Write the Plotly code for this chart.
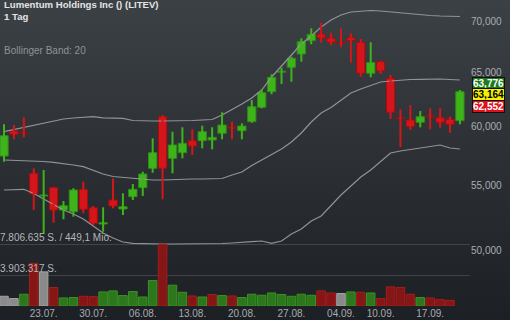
import base64
import math
import plotly.graph_objects as go

# ---------------- data ----------------
dates = [
    "2018-07-17", "2018-07-18", "2018-07-19", "2018-07-20",
    "2018-07-23", "2018-07-24", "2018-07-25", "2018-07-26", "2018-07-27",
    "2018-07-30", "2018-07-31", "2018-08-01", "2018-08-02", "2018-08-03",
    "2018-08-06", "2018-08-07", "2018-08-08", "2018-08-09", "2018-08-10",
    "2018-08-13", "2018-08-14", "2018-08-15", "2018-08-16", "2018-08-17",
    "2018-08-20", "2018-08-21", "2018-08-22", "2018-08-23", "2018-08-24",
    "2018-08-27", "2018-08-28", "2018-08-29", "2018-08-30", "2018-08-31",
    "2018-09-04", "2018-09-05", "2018-09-06", "2018-09-07",
    "2018-09-10", "2018-09-11", "2018-09-12", "2018-09-13", "2018-09-14",
    "2018-09-17", "2018-09-18", "2018-09-19", "2018-09-20",
]
opens = [57.464, 59.614, 59.44, 56.022, 54.184, 54.849, 53.079, 52.947, 54.72, 53.26,
         51.999, 53.865, 53.157, 54.127, 54.849, 56.435, 60.881, 57.27, 57.744, 58.77,
         58.77, 58.83, 59.414, 59.95, 59.64, 60.435, 61.728, 63.158, 64.996, 65.464,
         66.757, 68.073, 68.749, 68.345, 67.90, 68.375, 67.913, 64.89, 66.01, 64.415,
         60.78, 60.585, 60.382, 61.00, 60.791, 60.648, 60.523]
highs = [60.205, 60.143, 60.827, 56.435, 56.293, 54.88, 53.786, 54.801, 55.334, 53.393,
         53.291, 55.612, 54.40, 55.148, 56.153, 58.978, 61.033, 59.553, 59.94, 59.763,
         60.081, 59.94, 61.276, 60.435, 60.294, 62.392, 63.381, 64.795, 65.426, 66.493,
         68.311, 69.325, 69.899, 68.878, 69.325, 68.817, 68.244, 67.913, 66.06, 64.729,
         61.546, 61.937, 61.392, 61.637, 61.637, 60.881, 63.315]
lows = [56.984, 58.891, 59.065, 53.079, 51.241, 52.099, 52.359, 52.56, 52.824, 51.923,
        51.414, 53.213, 52.692, 53.865, 54.184, 56.071, 53.921, 56.022, 57.27, 57.549,
        58.118, 58.032, 58.891, 58.891, 58.891, 60.346, 61.637, 62.919, 63.878, 64.093,
        66.006, 67.716, 67.874, 67.646, 67.418, 65.909, 64.567, 64.51, 64.824, 60.675,
        58.23, 59.701, 59.94, 59.763, 59.905, 59.466, 60.205]
closes = [59.205, 59.326, 59.40, 54.344, 54.264, 53.079, 53.417, 54.663, 53.134, 52.053,
          52.099, 53.393, 53.338, 54.72, 55.964, 57.744, 56.435, 58.401, 58.547, 58.315,
          59.553, 59.065, 60.143, 59.86, 60.055, 61.782, 63.066, 64.51, 65.091, 66.336,
          67.976, 68.719, 68.345, 67.913, 67.82, 68.073, 64.891, 65.922, 65.109, 61.276,
          60.70, 59.993, 60.881, 60.93, 60.382, 60.205, 63.164]
volumes = [1230000, 940000, 1490000, 5390000, 4320000, 2340000, 1020000, 1070000, 1230000, 1190000,
           1780000, 1910000, 1320000, 1830000, 1140000, 3230000, 7806635, 2630000, 1740000, 1270000,
           1140000, 1450000, 1320000, 1270000, 1070000, 1490000, 1360000, 1650000, 1450000, 1230000,
           1490000, 1360000, 1910000, 1650000, 1580000, 1780000, 1740000, 1650000, 940000, 2420000,
           2340000, 1490000, 1070000, 1020000, 810000, 720000, None]
vol_dir = ["n", "n", "u", "d", "n", "d", "u", "u", "d", "d",
           "u", "u", "u", "u", "u", "u", "d", "u", "u", "d",
           "u", "d", "u", "d", "u", "u", "u", "u", "u", "u",
           "u", "u", "d", "d", "n", "u", "d", "u", "d", "d",
           "d", "d", "u", "d", "d", "d", "u"]
bb_upper = [59.553, 59.745, 59.922, 60.143, 60.293, 60.496, 60.675, 60.764, 60.827, 60.881,
            60.782, 60.738, 60.738, 60.541, 60.496, 60.496, 60.496, 60.496, 60.496, 60.541,
            60.585, 60.630, 61.034, 61.510, 62.028, 62.577, 63.315, 64.539, 65.590, 66.660,
            67.745, 68.546, 69.458, 70.175, 70.695, 71.007, 71.110, 71.162, 71.110, 71.007,
            70.903, 70.799, 70.695, 70.643, 70.591, 70.560, 70.539]
bb_mid = [57.126, 57.101, 57.068, 57.043, 57.001, 56.934, 56.851, 56.709, 56.568, 56.293,
          55.965, 55.760, 55.677, 55.612, 55.529, 55.472, 55.472, 55.513, 55.529, 55.554,
          55.554, 55.579, 55.595, 55.882, 56.129, 56.668, 57.126, 57.549, 58.058, 58.658,
          59.440, 60.408, 61.213, 61.710, 62.392, 63.038, 63.409, 63.737, 64.065, 64.158,
          64.253, 64.301, 64.320, 64.348, 64.348, 64.301, 64.253]
bb_lower = [54.663, 54.703, 54.720, 54.384, 53.945, 53.472, 53.079, 52.769, 52.382, 51.847,
            51.316, 50.941, 50.642, 50.546, 50.516, 50.494, 50.494, 50.494, 50.494, 50.494,
            50.494, 50.494, 50.531, 50.568, 50.642, 50.664, 50.716, 50.546, 50.716, 51.241,
            51.618, 52.229, 52.614, 53.472, 54.264, 54.987, 55.718, 56.293, 57.043, 57.718,
            57.888, 58.015, 58.187, 58.315, 58.401, 58.144, 58.058]
price_ticks = [50, 55, 60, 65, 70]
label_dates = ["2018-07-23", "2018-07-30", "2018-08-06", "2018-08-13", "2018-08-20",
               "2018-08-27", "2018-09-04", "2018-09-10", "2018-09-17"]
quote_ask = 63.776
quote_last = 63.164
quote_bid = 62.552
max_turnover_mio = 449.1
title_text = "Lumentum Holdings Inc () (LITEV)"
period_text = "1 Tag"
indicator_text = "Bollinger Band: 20"

# ---------------- styling ----------------
GREEN_BODY, GREEN_EDGE = "#3fb31c", "#2c8c12"
RED_BODY, RED_EDGE = "#d4161b", "#a30d10"
VOL_FILL = {"u": "#2c761b", "d": "#861616", "n": "#8a8a8a"}
VOL_EDGE = {"u": "#3a9326", "d": "#a41d1d", "n": "#a3a3a3"}
BAND = "rgba(150,152,155,0.95)"
AXIS_TXT = "#a9adb2"
FONT = "Liberation Sans, Arial, sans-serif"

W, H = 510, 320
ML, MR, MT, MB = 0, 40, 0, 14
PH = H - MT - MB
max_vol = max(v for v in volumes if v is not None)


def fmt_de(v, dec):
    return f"{v:,.{dec}f}".replace(",", "X").replace(".", ",").replace("X", ".")


fig = go.Figure()

# volume
fig.add_trace(go.Bar(
    x=dates, y=volumes, yaxis="y2", width=0.86,
    marker=dict(color=[VOL_FILL[d] for d in vol_dir],
                line=dict(color=[VOL_EDGE[d] for d in vol_dir], width=1)),
    hoverinfo="skip"))

# Bollinger bands
for band in (bb_upper, bb_mid, bb_lower):
    fig.add_trace(go.Scatter(x=dates, y=band, mode="lines",
                             line=dict(color=BAND, width=1.2), hoverinfo="skip"))

# candles: wicks then bodies
up = [c >= o for o, c in zip(opens, closes)]
for flag, col in ((True, GREEN_BODY), (False, RED_BODY)):
    wx, wy = [], []
    for d, h, l, u in zip(dates, highs, lows, up):
        if u == flag:
            wx += [d, d, None]
            wy += [l, h, None]
    fig.add_trace(go.Scatter(x=wx, y=wy, mode="lines", line=dict(color=col, width=2),
                             connectgaps=False, hoverinfo="skip"))

fig.add_trace(go.Bar(
    x=dates,
    base=[min(o, c) for o, c in zip(opens, closes)],
    y=[abs(c - o) for o, c in zip(opens, closes)],
    width=0.84,
    marker=dict(color=[GREEN_BODY if u else RED_BODY for u in up],
                line=dict(color=[GREEN_EDGE if u else RED_EDGE for u in up], width=1)),
    hoverinfo="skip"))

# background gradient
svg = (f'<svg xmlns="http://www.w3.org/2000/svg" width="{W}" height="{H}">'
       '<defs><linearGradient id="g" x1="0" y1="0" x2="0" y2="1">'
       '<stop offset="0" stop-color="#3c4146"/><stop offset="1" stop-color="#1c1f23"/>'
       '</linearGradient></defs>'
       f'<rect width="{W}" height="{H}" fill="url(#g)"/></svg>')
bg_src = "data:image/svg+xml;base64," + base64.b64encode(svg.encode()).decode()

plot_w = W - ML - MR
x_lo = -0.404
x_hi = x_lo + plot_w / 9.911

price_lo, price_hi = 1.66368, 1.858945
vol_top = max_vol * PH / 61.7

annotations = [
    dict(x=0, y=1, xref="paper", yref="paper", xanchor="left", yanchor="top",
         xshift=2, yshift=3, align="left", showarrow=False,
         text=f"<b>{title_text}</b><br><b>{period_text}</b>",
         font=dict(size=9.6, color="#e4e4e4", family=FONT)),
    dict(x=0, y=1 - 51 / PH, xref="paper", yref="paper", xanchor="left", yanchor="middle",
         xshift=2, showarrow=False, text=indicator_text,
         font=dict(size=10, color="#8e9398", family=FONT)),
    dict(x=0, y=max_vol, xref="paper", yref="y2", xanchor="left", yanchor="bottom",
         xshift=-2, yshift=-1, showarrow=False,
         text=f"{fmt_de(max_vol, 0)} S. / {fmt_de(max_turnover_mio, 1)} Mio.",
         font=dict(size=10, color="#b3b7bb", family=FONT)),
    dict(x=0, y=max_vol / 2, xref="paper", yref="y2", xanchor="left", yanchor="bottom",
         xshift=-2, yshift=-1, showarrow=False,
         text=f"{fmt_de(int(max_vol / 2), 0)} S.",
         font=dict(size=10, color="#b3b7bb", family=FONT)),
]
for val, shift, bg, fg in ((quote_ask, 8, "#1d7a1d", "#ffffff"),
                           (quote_last, -3, "#f2f200", "#000000"),
                           (quote_bid, -14.5, "#e0101c", "#ffffff")):
    annotations.append(dict(
        x=1, y=math.log10(quote_last), xref="paper", yref="y", xanchor="left", yanchor="middle",
        xshift=2, yshift=shift, showarrow=False, text=f"<b>{fmt_de(val, 3)}</b>",
        bgcolor=bg, bordercolor="#101010", borderwidth=1, borderpad=0,
        font=dict(size=10, color=fg, family=FONT)))

fig.update_layout(
    width=W, height=H, margin=dict(l=ML, r=MR, t=MT, b=MB),
    paper_bgcolor="#2b2f33", plot_bgcolor="rgba(0,0,0,0)",
    barmode="overlay", showlegend=False, hovermode=False,
    font=dict(family=FONT, size=10, color=AXIS_TXT),
    images=[dict(source=bg_src, xref="paper", yref="paper", x=0, y=1,
                 sizex=W / plot_w, sizey=H / PH, xanchor="left", yanchor="top",
                 sizing="stretch", layer="below")],
    xaxis=dict(type="category", range=[x_lo, x_hi], tickmode="array",
               tickvals=label_dates,
               ticktext=[f"{d[8:10]}.{d[5:7]}." for d in label_dates],
               showgrid=False, zeroline=False, showline=False, ticks="",
               tickfont=dict(size=10, color=AXIS_TXT, family=FONT)),
    yaxis=dict(type="log", side="right", range=[price_lo, price_hi], tickmode="array",
               tickvals=price_ticks, ticktext=[fmt_de(v, 3) for v in price_ticks],
               showgrid=False, zeroline=False, showline=False, ticks="",
               tickfont=dict(size=10, color=AXIS_TXT, family=FONT)),
    yaxis2=dict(overlaying="y", side="left", range=[0, vol_top], tickmode="array",
                tickvals=[max_vol / 2, max_vol], showticklabels=False,
                showgrid=True, gridcolor="rgba(120,126,132,0.35)", gridwidth=1,
                zeroline=False, showline=False, ticks=""),
    annotations=annotations,
)

fig.write_html("out.html")
